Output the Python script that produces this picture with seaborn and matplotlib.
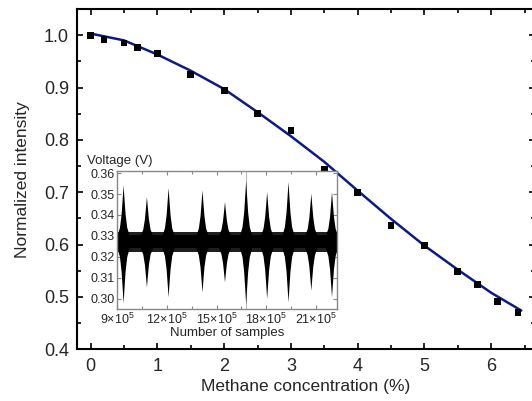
import matplotlib
matplotlib.use("Agg")
import matplotlib.pyplot as plt
import numpy as np
import pandas as pd
import seaborn as sns

# measured points (methane concentration %, normalized intensity)
conc = [0, 0.2, 0.5, 0.7, 1.0, 1.5, 2.0, 2.5, 3.0, 3.5, 4.0, 4.5, 5.0, 5.5, 5.8, 6.1, 6.4]
intensity = [1.000, 0.992, 0.985, 0.976, 0.965, 0.925, 0.895, 0.851, 0.818, 0.744,
             0.700, 0.636, 0.599, 0.549, 0.524, 0.492, 0.470]

# fitted curve
fit_x = [0, 0.5, 1.0, 1.5, 2.0, 2.5, 3.0, 3.5, 4.0, 4.5, 5.0, 5.5, 6.0, 6.45]
fit_y = [1.003, 0.990, 0.963, 0.932, 0.897, 0.853, 0.807, 0.758, 0.703, 0.649,
         0.598, 0.552, 0.508, 0.474]

# inset: bursts in the voltage trace (sample index, top and bottom of envelope)
burst_pos = [9.35e5, 10.76e5, 12.07e5, 14.12e5, 15.48e5, 16.76e5, 18.03e5, 19.32e5, 20.70e5, 21.95e5]
burst_top = [0.3544, 0.3488, 0.3531, 0.3520, 0.3464, 0.3565, 0.3512, 0.3560, 0.3504, 0.3512]
burst_bot = [0.2979, 0.3056, 0.3008, 0.3032, 0.3080, 0.2976, 0.3000, 0.2984, 0.3040, 0.3008]
band_top = 0.3305
band_bot = 0.3240
band_fuzz = 0.0015

sns.set_theme(style="ticks")
plt.rcParams["font.family"] = ["Liberation Sans", "DejaVu Sans"]
plt.rcParams["mathtext.fontset"] = "custom"
plt.rcParams["mathtext.rm"] = "Liberation Sans"
plt.rcParams["mathtext.it"] = "Liberation Sans:italic"

fig = plt.figure(figsize=(5.32, 4.01), dpi=100)
ax = fig.add_axes([0.1453, 0.1289, 0.8596, 0.8487])

fit_df = pd.DataFrame({"x": fit_x, "y": fit_y})
pts_df = pd.DataFrame({"x": conc, "y": intensity})
sns.lineplot(data=fit_df, x="x", y="y", ax=ax, color="#0d1a85", linewidth=1.8, zorder=2)
sns.scatterplot(data=pts_df, x="x", y="y", ax=ax, color="black", marker="s", s=24,
                edgecolor="none", zorder=3)

ax.set_xlim(-0.2, 6.65)
ax.set_ylim(0.4, 1.05)
ax.set_xticks(range(0, 7))
ax.set_xticks(np.arange(-0.0, 6.6, 0.5), minor=True)
ax.set_yticks([0.4, 0.5, 0.6, 0.7, 0.8, 0.9, 1.0])
ax.set_yticks(np.arange(0.45, 1.05, 0.1), minor=True)
ax.set_yticklabels([f"{v:.1f}" for v in [0.4, 0.5, 0.6, 0.7, 0.8, 0.9, 1.0]])
ax.tick_params(which="both", direction="in", top=True, right=True, width=1.2,
               labelsize=13, color="black")
ax.tick_params(which="major", length=4.5, pad=6)
ax.tick_params(which="minor", length=3)
for sp in ax.spines.values():
    sp.set_linewidth(1.5)
    sp.set_color("black")
ax.set_xlabel("Methane concentration (%)", fontsize=12.5, labelpad=3)
ax.set_ylabel("Normalized intensity", fontsize=12.5, labelpad=10)

# ---- inset with the raw voltage trace ----
ins = fig.add_axes([0.2205, 0.2294, 0.4135, 0.3441])
ins.set_facecolor("white")
ins.set_zorder(5)
xs = np.array([9.0e5, 22.3e5])
ins.fill_between(xs, band_bot - band_fuzz, band_top + band_fuzz, color="#1e1e1e", lw=0)
ins.fill_between(xs, band_bot, band_top, color="black", lw=0)

prof_off = np.array([-0.36, -0.22, -0.12, -0.05, 0.0, 0.05, 0.12, 0.22, 0.36]) * 1e5
prof_frac = np.array([0.0, 0.15, 0.42, 0.75, 1.0, 0.75, 0.42, 0.15, 0.0])
for p, t, b in zip(burst_pos, burst_top, burst_bot):
    bx = p + prof_off
    up = band_top + (t - band_top) * prof_frac
    lo = band_bot - (band_bot - b) * prof_frac
    ins.fill_between(bx, lo, up, color="black", lw=0)

ins.axvline(16.8e5, color="#bbbbbb", lw=0.8, zorder=0)
ins.set_xlim(9.0e5, 22.3e5)
ins.set_ylim(0.295, 0.361)
xt = [9e5, 12e5, 15e5, 18e5, 21e5]
ins.set_xticks(xt)
ins.set_xticklabels([r"%d$\times$10$^{5}$" % (v / 1e5) for v in xt])
ins.set_xticks(np.arange(9e5, 22.3e5, 1.5e5), minor=True)
ins.set_yticks([0.30, 0.31, 0.32, 0.33, 0.34, 0.35, 0.36])
ins.set_yticklabels([f"{v:.2f}" for v in [0.30, 0.31, 0.32, 0.33, 0.34, 0.35, 0.36]])
ins.tick_params(which="both", direction="in", top=True, right=True, color="#888888",
                width=0.8, labelsize=9, pad=2)
ins.tick_params(which="major", length=3)
ins.tick_params(which="minor", length=2)
for sp in ins.spines.values():
    sp.set_linewidth(1.0)
    sp.set_color("#888888")
ins.set_xlabel("Number of samples", fontsize=9.5, labelpad=0)
ins.set_ylabel("")
ins.text(-0.14, 1.03, "Voltage (V)", transform=ins.transAxes, fontsize=9.5,
         ha="left", va="bottom")

fig.savefig("out.png", dpi=100)
